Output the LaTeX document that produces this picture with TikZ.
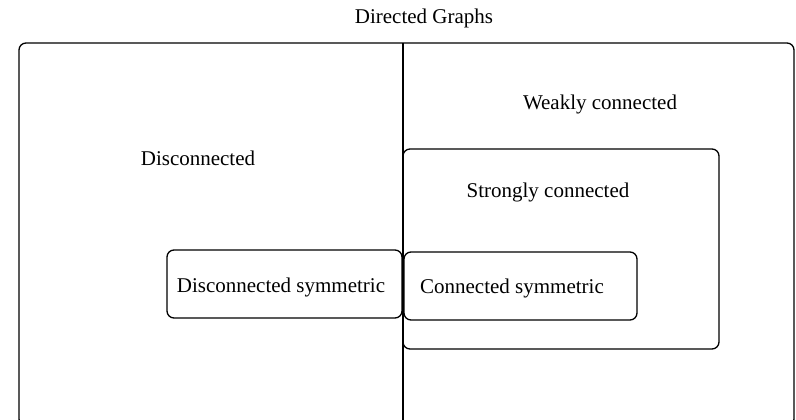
\documentclass[tikz,border=0pt]{standalone}
\usepackage{fontspec}
\setmainfont{Liberation Serif}
\begin{document}
\begin{tikzpicture}[x=1pt,y=-1pt,
  box/.style={draw, line width=1.3pt, rounded corners=7pt},
  lbl/.style={font=\fontsize{21}{24}\selectfont, inner sep=0pt, anchor=base}]
\useasboundingbox (0,0) rectangle (796,420);
\fill[white] (0,0) rectangle (796,420);
% outer frame and dividing line
\draw[box] (19,43) rectangle (794,426);
\coordinate (vtop) at (403,43);
\coordinate (vbot) at (403,421);
\draw[line width=1.3pt] (vtop) -- (vbot);
% inner boxes
\draw[box] (403,149) rectangle (719,349);
\draw[box] (167,250) rectangle (402,318);
\draw[box] (404,252) rectangle (637,320);
% labels
\node[lbl] (dg) at (424,24) {Directed Graphs};
\node[lbl] (wc) at (600,110) {Weakly connected};
\node[lbl] (dc) at (198,165) {Disconnected};
\node[lbl] (sc) at (548,197) {Strongly connected};
\node[lbl] (ds) at (281,292) {Disconnected symmetric};
\node[lbl] (cs) at (512,293) {Connected symmetric};
\end{tikzpicture}
\end{document}
